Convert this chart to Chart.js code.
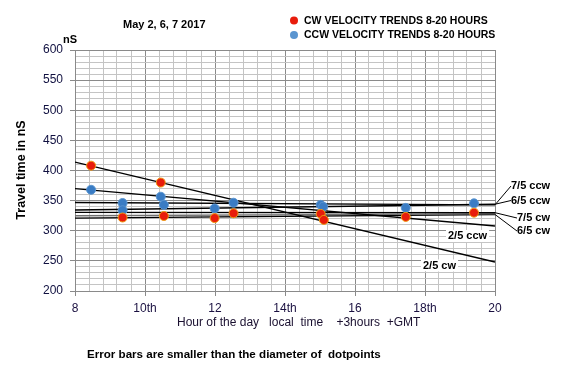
<!DOCTYPE html>
<html><head><meta charset="utf-8">
<script src="https://cdn.jsdelivr.net/npm/chart.js@4/dist/chart.umd.min.js"></script>
<style>html,body{margin:0;padding:0;background:#fff}canvas{display:block}</style>
</head><body>
<canvas id="c" width="580" height="380"></canvas>
<script>
// ---- data ----
const cwHours  = [8.46, 9.36, 10.45, 10.54, 11.99, 12.53, 15.02, 15.11, 17.45, 19.4];
const cwTimes  = [408, 322, 380, 324.5, 321, 329, 328, 318, 323, 330];
const ccwHours = [8.46, 9.36, 9.36, 10.45, 10.54, 11.99, 12.53, 15.02, 15.09, 17.45, 19.4];
const ccwTimes = [368, 346, 334, 356.5, 343, 337, 346.5, 343, 340, 338, 345.5];
// trend lines: value at hour 8 and hour 20
const trendNames = ['2/5 cw', '2/5 ccw', '7/5 ccw', '6/5 ccw', '7/5 cw', 'aux', '6/5 cw'];
const trendStart = [414, 370, 347, 334.5, 330.5, 325, 321];
const trendEnd   = [248, 308, 343, 344, 330, 328, 327];
const trendColor = ['#000', '#000', '#000', '#000', '#000', '#707070', '#000'];
const xTickLabels = {8:'8', 10:'10th', 12:'12', 14:'14th', 16:'16', 18:'18th', 20:'20'};
const yTickLabels = [200, 250, 300, 350, 400, 450, 500, 550, 600];

const isMajorX = v => Math.abs(v/2 - Math.round(v/2)) < 1e-6;
const isMajorY = v => Math.abs(v/50 - Math.round(v/50)) < 1e-6;

const datasets = [];
trendNames.forEach((n, i) => {
  datasets.push({
    type: 'line', label: n,
    data: [{x: 8, y: trendStart[i]}, {x: 20, y: trendEnd[i]}],
    borderColor: trendColor[i], borderWidth: 1.4, pointRadius: 0, fill: false, order: 2
  });
});
datasets.push({
  type: 'scatter', label: 'CW',
  data: cwHours.map((h, i) => ({x: h, y: cwTimes[i]})),
  backgroundColor: '#e81c0c', borderColor: '#f09a10', borderWidth: 1, pointRadius: 4.5, order: 1
});
datasets.push({
  type: 'scatter', label: 'CCW',
  data: ccwHours.map((h, i) => ({x: h, y: ccwTimes[i]})),
  backgroundColor: '#3a7cc4', borderColor: '#5a95d0', borderWidth: 1, pointRadius: 4.5, order: 1
});

const textPlugin = {
  id: 'texts',
  afterDraw(chart) {
    const ctx = chart.ctx;
    const xs = chart.scales.x, ys = chart.scales.y;
    ctx.save();
    ctx.fillStyle = '#000';
    ctx.textBaseline = 'middle';
    // title
    ctx.font = 'bold 11px "Liberation Sans", Arial, sans-serif';
    ctx.textAlign = 'left';
    ctx.fillText('May 2, 6, 7 2017', 123, 25);
    // legend
    ctx.beginPath(); ctx.arc(294, 20.5, 4, 0, Math.PI*2); ctx.fillStyle = '#e81c0c'; ctx.fill();
    ctx.beginPath(); ctx.arc(294, 35, 4, 0, Math.PI*2); ctx.fillStyle = '#5a95d0'; ctx.fill();
    ctx.fillStyle = '#000';
    ctx.font = 'bold 10.5px "Liberation Sans", Arial, sans-serif';
    ctx.fillText('CW VELOCITY TRENDS 8-20 HOURS', 304, 21.5);
    ctx.fillText('CCW VELOCITY TRENDS 8-20 HOURS', 304, 35.5);
    // nS unit
    ctx.font = 'bold 11px "Liberation Sans", Arial, sans-serif';
    ctx.fillText('nS', 63, 40);
    // y title
    ctx.save();
    ctx.translate(22, 170);
    ctx.rotate(-Math.PI/2);
    ctx.textAlign = 'center';
    ctx.font = 'bold 12.5px "Liberation Sans", Arial, sans-serif';
    ctx.fillText('Travel time in nS', 0, 0);
    ctx.restore();
    // x title
    ctx.font = '12px "Liberation Sans", Tahoma, sans-serif';
    ctx.fillStyle = '#1a1030';
    ctx.textAlign = 'left';
    ctx.fillText('Hour of the day   local  time    +3hours  +GMT', 177, 323);
    // note
    ctx.font = 'bold 11.6px "Liberation Sans", Arial, sans-serif';
    ctx.fillStyle = '#000';
    ctx.fillText('Error bars are smaller than the diameter of  dotpoints', 87, 355);

    // right-side labels with leader lines
    ctx.font = 'bold 11px "Liberation Sans", Arial, sans-serif';
    const xr = xs.getPixelForValue(20);
    const lab = [
      ['7/5 ccw', 2, 511, 186],
      ['6/5 ccw', 3, 511, 200.5],
      ['7/5 cw', 4, 517, 218],
      ['6/5 cw', 6, 517, 231]
    ];
    ctx.strokeStyle = '#000'; ctx.lineWidth = 1;
    lab.forEach(([t, idx, lx, ly]) => {
      const yy = ys.getPixelForValue(trendEnd[idx]);
      ctx.beginPath(); ctx.moveTo(xr, yy); ctx.lineTo(lx, ly); ctx.stroke();
      ctx.fillText(t, lx, ly);
    });
    // in-plot labels with white background
    const boxLab = [['2/5 ccw', 448, 236], ['2/5 cw', 423, 265.5]];
    boxLab.forEach(([t, lx, ly]) => {
      const w = ctx.measureText(t).width;
      ctx.fillStyle = '#fff';
      ctx.fillRect(lx - 2, ly - 6, w + 4, 12);
      ctx.fillStyle = '#000';
      ctx.fillText(t, lx, ly);
    });
    ctx.restore();
  }
};

new Chart(document.getElementById('c'), {
  data: { datasets },
  options: {
    responsive: false, animation: false,
    layout: { padding: { left: 0, top: 50, right: 85, bottom: 0 } },
    plugins: { legend: { display: false }, tooltip: { enabled: false }, title: { display: false } },
    scales: {
      x: {
        type: 'linear', min: 8, max: 20,
        afterBuildTicks: s => { const t = []; for (let i = 0; i <= 30; i++) t.push({value: Math.round((8 + i*0.4)*10)/10}); s.ticks = t; },
        afterFit: s => { s.height = 89; },
        ticks: {
          autoSkip: false, maxRotation: 0, padding: 5,
          font: { family: '"Liberation Sans", Tahoma, sans-serif', size: 12 },
          color: '#1a1040',
          callback: v => isMajorX(v) ? (xTickLabels[Math.round(v)] || '') : ''
        },
        grid: {
          color: c => isMajorX(c.tick.value) ? '#8a8a8a' : '#c4c4c4',
          tickColor: c => isMajorX(c.tick.value) ? '#8a8a8a' : 'rgba(0,0,0,0)',
          tickLength: 5, lineWidth: 1
        },
        border: { color: '#8a8a8a', width: 1 }
      },
      y: {
        type: 'linear', min: 200, max: 600,
        ticks: {
          stepSize: 10, autoSkip: false, padding: 7,
          font: { family: '"Liberation Sans", Tahoma, sans-serif', size: 12 },
          color: '#101040',
          callback: v => yTickLabels.includes(Math.round(v)) && isMajorY(v) ? String(Math.round(v)) : ''
        },
        afterFit: s => { s.width = 75; },
        grid: {
          color: c => isMajorY(c.tick.value) ? '#8a8a8a' : '#c4c4c4',
          tickColor: c => isMajorY(c.tick.value) ? '#8a8a8a' : 'rgba(0,0,0,0)',
          tickLength: 5, lineWidth: 1
        },
        border: { color: '#8a8a8a', width: 1 }
      }
    }
  },
  plugins: [textPlugin]
});
</script>
</body></html>
